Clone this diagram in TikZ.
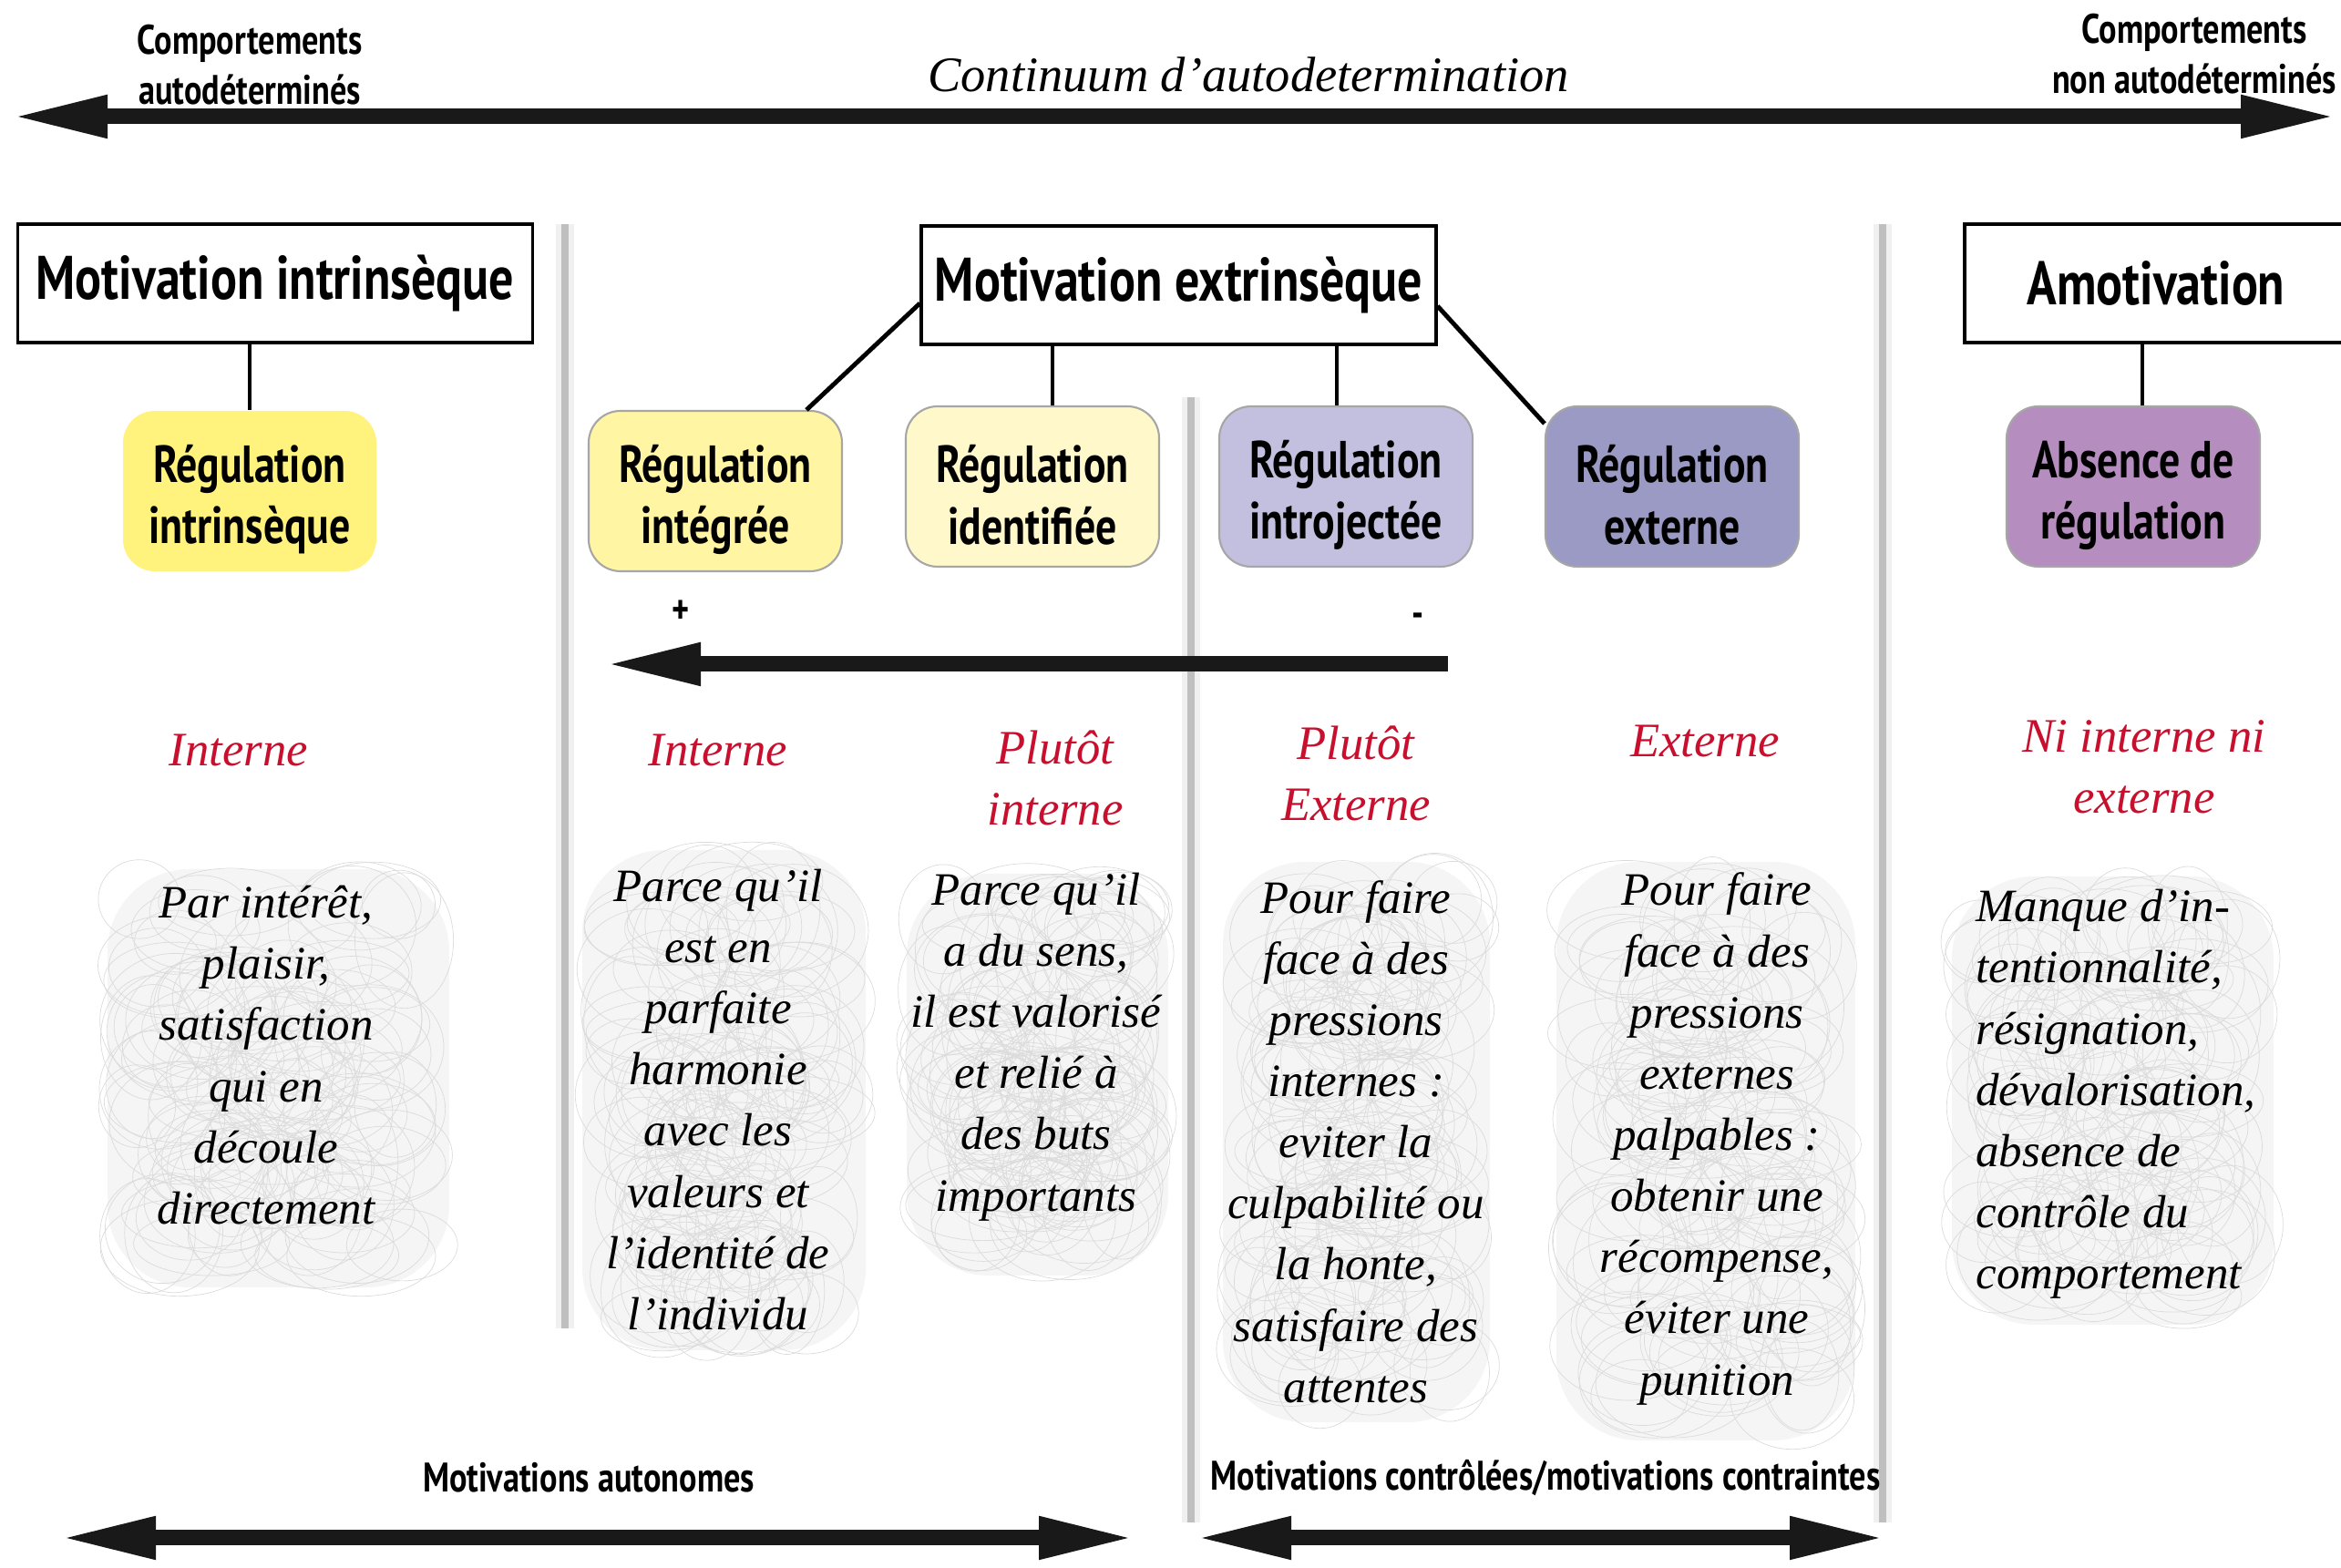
\documentclass[tikz,border=0pt]{standalone}
\usepackage{fontspec}
\setmainfont{Liberation Serif}
\newfontfamily\condfont[FakeStretch=0.8]{PT Sans}
\usetikzlibrary{arrows.meta}
\definecolor{labelred}{HTML}{C8102E}
\definecolor{yelA}{HTML}{FFF27D}
\definecolor{yelB}{HTML}{FFF5A3}
\definecolor{yelC}{HTML}{FFF8CA}
\definecolor{lavA}{HTML}{C2C0DE}
\definecolor{lavB}{HTML}{9A9AC4}
\definecolor{plum}{HTML}{B58EBF}
\tikzset{Big/.tip={Triangle[length=1.05cm,width=0.43cm]}}
% pencil cloud behind a text: x1, y1, x2, y2
\newcommand\scribble[4]{%
\fill[gray!8, rounded corners=0.9cm] (#1+0.12,#2+0.12) rectangle (#3-0.12,#4-0.12);
\foreach \k in {1,...,120}{
  \pgfmathsetmacro\rx{0.4+0.5*rnd}
  \pgfmathsetmacro\ry{0.35+0.4*rnd}
  \pgfmathsetmacro\cx{#1+\rx+(#3-#1-2*\rx)*rnd}
  \pgfmathsetmacro\cy{#2+\ry+(#4-#2-2*\ry)*rnd}
  \draw[gray!28, line width=0.2pt] (\cx,\cy) ellipse[x radius=\rx, y radius=\ry];
}}
\newcommand\up{\rule{0pt}{17pt}}

\begin{document}
\begin{tikzpicture}[
  hdr/.style={draw, line width=0.9pt, minimum width=5.65cm, minimum height=1.3cm,
    font=\condfont\bfseries\fontsize{19.2}{21}\selectfont},
  reg/.style={rounded corners=0.35cm, minimum width=2.78cm, minimum height=1.76cm,
    inner ysep=0pt, align=center, draw=black!35, line width=0.6pt,
    font=\condfont\bfseries\fontsize{16.3}{19.1}\selectfont},
  link/.style={line width=1.4pt},
  scalearrow/.style={line width=0.17cm, color=black!90},
  reason/.style={align=center, font=\itshape\fontsize{14.5}{19.1}\selectfont},
  locus/.style={align=center, text=labelred, font=\itshape\fontsize{15}{19.1}\selectfont},
  smalllabel/.style={align=center, font=\condfont\bfseries\fontsize{12.9}{15.5}\selectfont}
]
\useasboundingbox (0,0) rectangle (25.69,17.21);

% separators
\foreach \x/\ya/\yb in {6.2/14.75/2.63, 13.07/12.85/0.5, 20.66/14.75/0.5}{
  \draw[line width=0.2cm, gray!12] (\x,\ya) -- (\x,\yb);
  \draw[line width=0.08cm, gray!50] (\x,\ya) -- (\x,\yb);
}

% continuum
\coordinate (cleft) at (0.13,15.93);
\coordinate (cright) at (25.64,15.93);
\draw[scalearrow, Big-Big] (cleft) -- (cright);
\node[smalllabel] (selfdet) at (2.74,16.5) {Comportements\\autodéterminés};
\node[smalllabel] (nonself) at (24.08,16.62) {Comportements\\non autodéterminés};
\node[font=\itshape\fontsize{15.5}{18}\selectfont] (cont) at (13.7,16.39) {Continuum d’autodetermination};

% types of motivation
\node[hdr] (mi) at (3.02,14.1) {Motivation intrinsèque};
\node[hdr] (me) at (12.935,14.08) {Motivation extrinsèque};
\node[hdr, minimum width=4.2cm] (amot) at (23.66,14.1) {Amotivation};

% regulations
\node[reg, fill=yelA, draw=none] (regintr) at (2.74,11.82) {\up Régulation\\intrinsèque};
\node[reg, fill=yelB] (regint) at (7.85,11.82) {\up Régulation\\intégrée};
\node[reg, fill=yelC] (regid) at (11.33,11.87) {\up Régulation\\identifiée};
\node[reg, fill=lavA] (regintro) at (14.77,11.87) {\up Régulation\\introjectée};
\node[reg, fill=lavB] (regext) at (18.35,11.87) {\up Régulation\\externe};
\node[reg, fill=plum] (absreg) at (23.41,11.87) {\up Absence de\\régulation};

\draw[link] (regintr.north) -- (regintr.north |- mi.south);
\draw[link] ([yshift=-2mm]me.west) -- ([xshift=1cm]regint.north);
\draw[link] ([xshift=2.2mm]regid.north) -- ([xshift=2.2mm]regid.north |- me.south);
\draw[link] ([xshift=-1mm]regintro.north) -- ([xshift=-1mm]regintro.north |- me.south);
\draw[link] ([yshift=-2.3mm]me.east) -- ([yshift=-2mm]regext.north west);
\draw[link] ([xshift=1mm]absreg.north) -- ([xshift=1mm]absreg.north |- amot.south);

% gradient of autonomy
\coordinate (gplus) at (6.64,9.92);
\coordinate (gminus) at (15.89,9.92);
\draw[scalearrow, -Big] (gminus) -- (gplus);
\node[smalllabel] (plus) at (7.47,10.49) {+};
\node[smalllabel] (minus) at (15.56,10.4) {-};

% locus of causality
\node[locus] (t1) at (2.62,8.97) {Interne};
\node[locus] (t2) at (7.88,8.97) {Interne};
\node[locus] (t3) at (11.58,8.67) {Plutôt\\interne};
\node[locus] (t4) at (14.88,8.72) {Plutôt\\Externe};
\node[locus] (t5) at (18.71,9.07) {Externe};
\node[locus] (t6) at (23.53,8.79) {Ni interne ni\\externe};

% reasons
\pgfmathsetseed{11}
\scribble{1.06}{2.96}{5.05}{7.79}
\scribble{6.27}{2.27}{9.62}{8.0}
\scribble{9.83}{3.09}{12.94}{7.74}
\scribble{13.3}{1.48}{16.47}{7.87}
\scribble{16.96}{1.28}{20.48}{7.87}
\scribble{21.3}{2.55}{25.07}{7.71}
\node[reason] (c1) at (2.92,5.63) {Par intérêt,\\plaisir,\\satisfaction\\qui en\\découle\\directement};
\node[reason] (c2) at (7.88,5.14) {Parce qu’il\\est en\\parfaite\\harmonie\\avec les\\valeurs et\\l’identité de\\l’individu};
\node[reason] (c3) at (11.37,5.72) {Parce qu’il\\a du sens,\\il est valorisé\\et relié à\\des buts\\importants};
\node[reason] (c4) at (14.88,4.68) {Pour faire\\face à des\\pressions\\internes :\\eviter la\\culpabilité ou\\la honte,\\satisfaire des\\attentes};
\node[reason] (c5) at (18.84,4.71) {Pour faire\\face à des\\pressions\\externes\\palpables :\\obtenir une\\récompense,\\éviter une\\punition};
\node[reason, align=left] (c6) at (23.22,5.2) {Manque d’in-\\tentionnalité,\\résignation,\\dévalorisation,\\absence de\\contrôle du\\comportement};

% autonomous vs controlled
\node[smalllabel] (auto) at (6.46,0.99) {Motivations autonomes};
\node[smalllabel] (ctrl) at (16.96,0.99) {Motivations contrôlées/motivations contraintes};
\coordinate (aleft) at (0.66,0.33);
\coordinate (aright) at (12.45,0.33);
\coordinate (kleft) at (13.12,0.33);
\coordinate (kright) at (20.69,0.33);
\draw[scalearrow, Big-Big] (aleft) -- (aright);
\draw[scalearrow, Big-Big] (kleft) -- (kright);
\end{tikzpicture}
\end{document}
